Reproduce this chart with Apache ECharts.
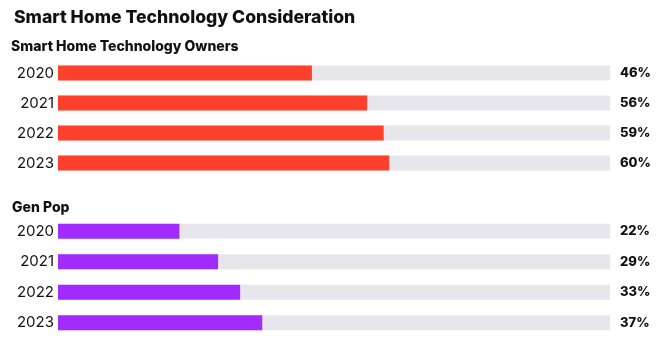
<!DOCTYPE html>
<html><head><meta charset="utf-8">
<script src="https://cdn.jsdelivr.net/npm/echarts@6/dist/echarts.min.js"></script>
<style>html,body{margin:0;padding:0;background:#fff}#c{width:668px;height:348px}</style>
</head><body><div id="c"></div>
<script>
const years = ['2020', '2021', '2022', '2023'];
const ownersValues = [46, 56, 59, 60];
const genPopValues = [22, 29, 33, 37];
const titleText = 'Smart Home Technology Consideration';
const ownersLabel = 'Smart Home Technology Owners';
const genPopLabel = 'Gen Pop';

const FONT = 'Inter';
const chart = echarts.init(document.getElementById('c'), null, {renderer: 'canvas'});
const gridDefs = [{top: 58, height: 120}, {top: 216, height: 122}];
const yLeft = (gi) => ({
  type: 'category', gridIndex: gi, data: years, inverse: true,
  axisLine: {show: false}, axisTick: {show: false}, splitLine: {show: false},
  axisLabel: {color: '#111', fontFamily: FONT, fontSize: 15, margin: 4}
});
const yRight = (gi, vals) => ({
  type: 'category', gridIndex: gi, position: 'right', inverse: true,
  data: vals.map(v => v + '%'),
  axisLine: {show: false}, axisTick: {show: false}, splitLine: {show: false},
  axisLabel: {color: '#111', fontFamily: FONT, fontSize: 13, fontWeight: 800, margin: 10, align: 'left'}
});
const xA = (gi) => ({type: 'value', gridIndex: gi, min: 0, max: 100, show: false});
const bar = (gi, vals, color) => ({
  type: 'bar', xAxisIndex: gi, yAxisIndex: gi * 2, data: vals, barWidth: 15,
  itemStyle: {color}, showBackground: true,
  backgroundStyle: {color: '#E6E6EC'}, silent: true, animation: false
});
chart.setOption({
  animation: false,
  title: [
    {text: titleText, left: 14, top: 9, padding: 0, textStyle: {fontFamily: FONT, fontSize: 17.6, fontWeight: 800, color: '#111'}},
    {text: ownersLabel, left: 11, top: 40, padding: 0, textStyle: {fontFamily: FONT, fontSize: 14, fontWeight: 800, color: '#111'}},
    {text: genPopLabel, left: 12, top: 201, padding: 0, textStyle: {fontFamily: FONT, fontSize: 14, fontWeight: 800, color: '#111'}}
  ],
  grid: gridDefs.map(g => ({left: 58, right: 58, top: g.top, height: g.height})),
  xAxis: [xA(0), xA(1)],
  yAxis: [yLeft(0), yRight(0, ownersValues), yLeft(1), yRight(1, genPopValues)],
  series: [bar(0, ownersValues, '#FF412C'), bar(1, genPopValues, '#A22BFF')]
});
</script></body></html>
